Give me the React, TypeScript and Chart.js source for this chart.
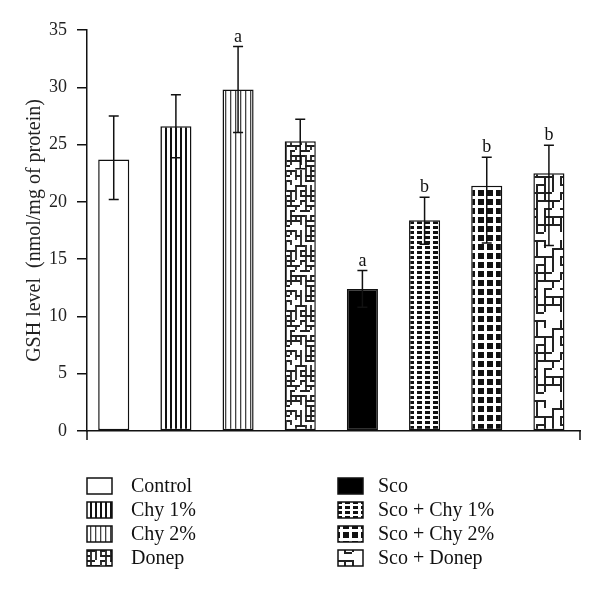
import React, { useEffect, useRef } from 'react';
import { Chart, registerables } from 'chart.js';

Chart.register(...registerables);

const groups = ['Control', 'Chy 1%', 'Chy 2%', 'Donep', 'Sco', 'Sco + Chy 1%', 'Sco + Chy 2%', 'Sco + Donep'];
const gsh = [23.7, 26.6, 29.8, 25.3, 12.4, 18.4, 21.4, 22.5];
const errHigh = [27.5, 29.35, 33.55, 27.2, 14.0, 20.4, 23.9, 24.95];
const errLow = [20.2, 23.85, 26.05, 22.9, 10.8, 16.3, 16.4, 16.2];
const marks = ['', '', 'a', '', 'a', 'b', 'b', 'b'];
const fills = ['white', 'vThick', 'vThin', 'mazeSmall', 'black', 'gridSmall', 'gridLarge', 'mazeLarge'];
const yTitle = 'GSH level  (nmol/mg of protein)';

const FONT = "'Liberation Serif', 'Times New Roman', serif";

function hash(i: number, j: number, k: number) {
  let h = (i * 374761393 + j * 668265263 + k * 2147483647) | 0;
  h = (h ^ (h >>> 13)) * 1274126177;
  h = h ^ (h >>> 16);
  return Math.abs(h);
}

function makeFill(kind: string): string | CanvasPattern {
  if (kind === 'white') return '#ffffff';
  if (kind === 'black') return '#000000';
  const c = document.createElement('canvas');
  const ctx = c.getContext('2d')!;
  if (kind === 'vThick' || kind === 'vThin') {
    c.width = 5; c.height = 10;
    ctx.fillStyle = '#fff'; ctx.fillRect(0, 0, 5, 10);
    ctx.fillStyle = kind === 'vThick' ? '#111' : '#444';
    ctx.fillRect(0, 0, kind === 'vThick' ? 2 : 1.3, 10);
  } else if (kind === 'gridSmall' || kind === 'gridLarge') {
    const w = kind === 'gridSmall' ? 8 : 9;
    const h = kind === 'gridSmall' ? 5 : 9;
    const bw = kind === 'gridSmall' ? 5 : 6;
    const bh = kind === 'gridSmall' ? 3 : 6;
    c.width = w; c.height = h;
    ctx.fillStyle = '#fff'; ctx.fillRect(0, 0, w, h);
    ctx.fillStyle = '#111'; ctx.fillRect(1, 1, bw, bh);
  } else {
    const small = kind === 'mazeSmall';
    const p = small ? 5 : 8;
    const n = small ? 8 : 6;
    const m = small ? 12 : 10;
    c.width = p * n; c.height = p * m;
    ctx.fillStyle = '#fff'; ctx.fillRect(0, 0, c.width, c.height);
    ctx.strokeStyle = '#222'; ctx.lineWidth = small ? 1.8 : 2; ctx.lineCap = 'butt';
    ctx.beginPath();
    for (let i = 0; i < n; i++) {
      for (let j = 0; j < m; j++) {
        if (hash(i, j, 1) % 6 < 4) { ctx.moveTo(i * p, j * p + 1); ctx.lineTo((i + 1) * p, j * p + 1); }
        if (hash(i, j, 2) % 6 < 4) { ctx.moveTo(i * p + 1, j * p); ctx.lineTo(i * p + 1, (j + 1) * p); }
      }
    }
    ctx.stroke();
  }
  return ctx.createPattern(c, 'repeat')!;
}

export default function App() {
  const ref = useRef<HTMLCanvasElement>(null);
  useEffect(() => {
    const canvas = ref.current!;
    const bg = fills.map(makeFill);
    const extras = {
      id: 'extras',
      afterDatasetsDraw(chart: any) {
        const ctx = chart.ctx as CanvasRenderingContext2D;
        const xs = chart.scales.x, ys = chart.scales.y;
        const area = chart.chartArea;
        ctx.save();
        ctx.strokeStyle = '#111';
        ctx.lineWidth = 1.5;
        gsh.forEach((_, i) => {
          const x = xs.getPixelForValue(i);
          const yH = ys.getPixelForValue(errHigh[i]);
          const yL = ys.getPixelForValue(errLow[i]);
          ctx.beginPath();
          ctx.moveTo(x, yL); ctx.lineTo(x, yH);
          ctx.moveTo(x - 5, yH); ctx.lineTo(x + 5, yH);
          ctx.moveTo(x - 5, yL); ctx.lineTo(x + 5, yL);
          ctx.stroke();
          if (marks[i]) {
            ctx.fillStyle = '#111';
            ctx.font = `18px ${FONT}`;
            ctx.textAlign = 'center';
            ctx.textBaseline = 'alphabetic';
            ctx.fillText(marks[i], x, yH - 5);
          }
        });
        ctx.beginPath();
        ctx.moveTo(area.left, area.bottom); ctx.lineTo(area.left, area.bottom + 9);
        ctx.moveTo(area.right, area.bottom); ctx.lineTo(area.right, area.bottom + 9);
        ctx.stroke();
        const half = Math.ceil(groups.length / 2);
        groups.forEach((g, i) => {
          const col = i < half ? 0 : 1;
          const row = i % half;
          const sx = area.left + col * 251;
          const sy = area.bottom + 47 + row * 24;
          ctx.fillStyle = bg[i] as any;
          ctx.fillRect(sx, sy, 25, 16);
          ctx.lineWidth = 1.5;
          ctx.strokeStyle = '#111';
          ctx.strokeRect(sx, sy, 25, 16);
          ctx.fillStyle = '#111';
          ctx.font = `20px ${FONT}`;
          ctx.textAlign = 'left';
          ctx.textBaseline = 'middle';
          ctx.fillText(g, sx + 44 - col * 4, sy + 9);
        });
        ctx.restore();
      },
    };
    const chart = new Chart(canvas, {
      type: 'bar',
      data: {
        labels: groups,
        datasets: [{
          data: gsh.map((v, i) => ({ x: i, y: v })),
          backgroundColor: bg as any,
          borderColor: '#111',
          borderWidth: 1.5,
          borderSkipped: false,
          barPercentage: 0.5,
          categoryPercentage: 1,
        }],
      },
      options: {
        animation: false,
        responsive: false,
        devicePixelRatio: 1,
        layout: { padding: { top: 30, right: 20, bottom: 160, left: 0 } },
        plugins: { legend: { display: false }, tooltip: { enabled: false } },
        scales: {
          x: {
            type: 'linear',
            offset: false,
            min: -0.43,
            max: 7.5,
            grid: { display: false },
            ticks: { display: false },
            border: { display: true, color: '#111', width: 1.5 },
            afterFit: (s: any) => { s.height = 0; },
          },
          y: {
            min: 0,
            max: 35,
            ticks: { stepSize: 5, color: '#222', font: { family: FONT, size: 18 }, padding: 10 },
            grid: { display: true, drawOnChartArea: false, drawTicks: true, tickLength: 10, color: '#111', lineWidth: 1.5 },
            border: { display: true, color: '#111', width: 1.5 },
            title: { display: true, text: yTitle, color: '#222', font: { family: FONT, size: 20 }, padding: { top: 23, bottom: 0 } },
            afterFit: (s: any) => { s.width = 87; },
          },
        },
      },
      plugins: [extras],
    } as any);
    return () => chart.destroy();
  }, []);
  return (
    <div style={{ position: 'fixed', left: 0, top: 0, width: 600, height: 591, background: '#fff' }}>
      <canvas ref={ref} width={600} height={591} />
    </div>
  );
}
